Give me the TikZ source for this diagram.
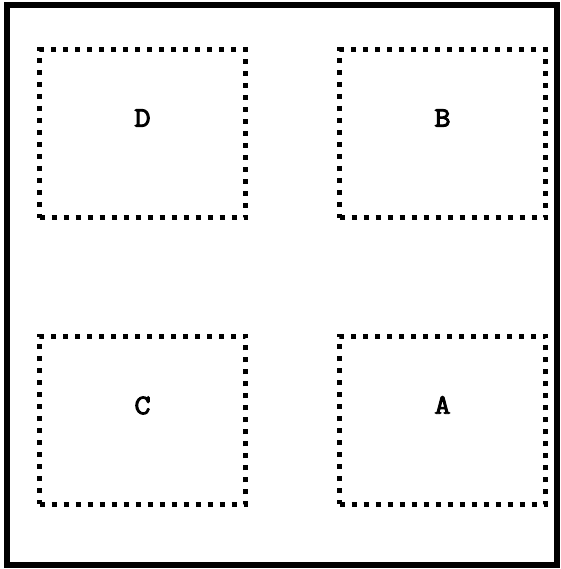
\documentclass[tikz,border=0pt]{standalone}
\usepackage{fontspec}
\newfontfamily\labelfont[FakeBold=3.5,FakeStretch=1.12]{Latin Modern Mono}
\usetikzlibrary{calc}
\begin{document}
\begin{tikzpicture}[x=1pt,y=1pt,
  zone/.style={draw=black, line width=5pt, dash pattern=on 5pt off 7pt, minimum width=206pt, minimum height=168pt, inner sep=0pt},
  zonelabel/.style={font=\labelfont\fontsize{28}{28}\selectfont, inner sep=0pt}]
\useasboundingbox (0,0) rectangle (560,569);
\draw[line width=6pt] (7,4) rectangle (557,564);
\node[zone] (d) at (142.5,435) {};
\node[zone] (b) at (442.5,435) {};
\node[zone] (c) at (142.5,148.5) {};
\node[zone] (a) at (442.5,148.5) {};
\node[zonelabel] (dl) at ($(d.center)+(0,16)$) {D};
\node[zonelabel] (bl) at ($(b.center)+(0,16)$) {B};
\node[zonelabel] (cl) at ($(c.center)+(0,15)$) {C};
\node[zonelabel] (al) at ($(a.center)+(0,15.5)$) {A};
\end{tikzpicture}
\end{document}
